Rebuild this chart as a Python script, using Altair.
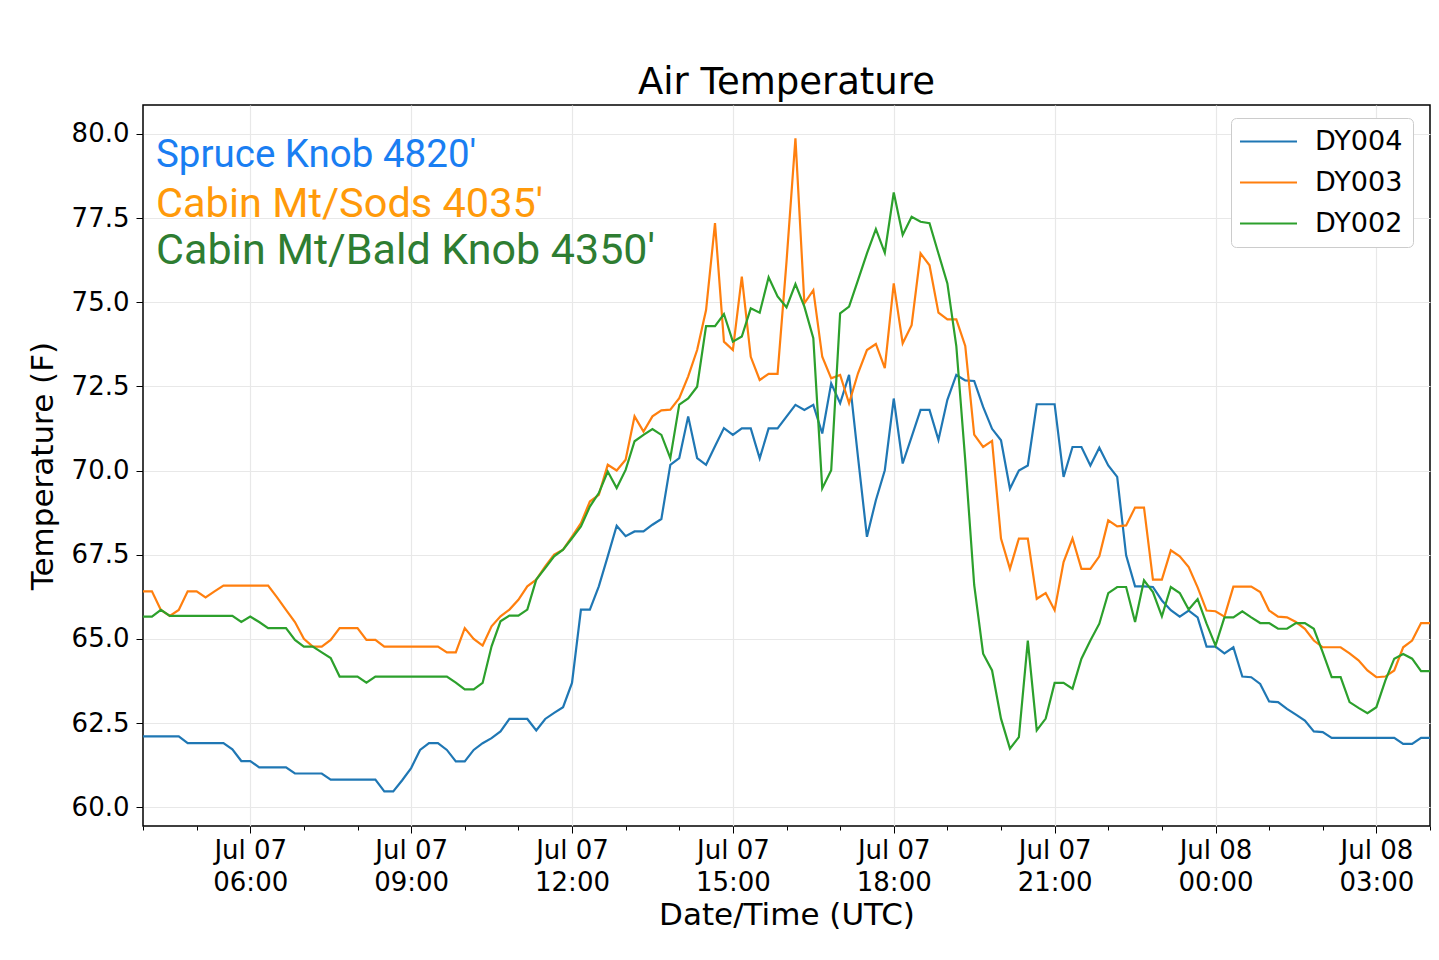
import altair as alt
import pandas as pd

# 10-minute readings, Jul 07 04:00 UTC to Jul 08 04:00 UTC
start_time = "2019-07-07 04:00"

dy004 = [62.1, 62.1, 62.1, 62.1, 62.1, 61.9, 61.9, 61.9, 61.9, 61.9,
         61.72, 61.37, 61.37, 61.18, 61.18, 61.18, 61.18, 61.0, 61.0, 61.0,
         61.0, 60.82, 60.82, 60.82, 60.82, 60.82, 60.82, 60.47, 60.47, 60.8,
         61.16, 61.7, 61.9, 61.9, 61.7, 61.36, 61.36, 61.7, 61.9, 62.05,
         62.25, 62.62, 62.62, 62.62, 62.28, 62.62, 62.8, 62.97, 63.69, 65.87,
         65.87, 66.56, 67.45, 68.36, 68.05, 68.19, 68.19, 68.39, 68.56, 70.17,
         70.37, 71.61, 70.37, 70.17, 70.72, 71.26, 71.06, 71.25, 71.25, 70.36,
         71.25, 71.25, 71.6, 71.95, 71.8, 71.95, 71.1, 72.59, 72.0, 72.84,
         70.4, 68.03, 69.12, 70.01, 72.14, 70.21, 71.0, 71.8, 71.8, 70.91,
         72.1, 72.84, 72.68, 72.66, 71.89, 71.24, 70.9, 69.46, 70.0, 70.15,
         71.97, 71.97, 71.97, 69.81, 70.7, 70.7, 70.15, 70.68, 70.15, 69.81,
         67.48, 66.56, 66.56, 66.54, 66.14, 65.85, 65.66, 65.84, 65.64, 64.77,
         64.77, 64.57, 64.75, 63.88, 63.86, 63.66, 63.14, 63.12, 62.92, 62.75,
         62.57, 62.25, 62.23, 62.06, 62.06, 62.06, 62.06, 62.06, 62.06, 62.06,
         62.06, 61.88, 61.88, 62.06, 62.06]

dy003 = [66.41, 66.41, 65.86, 65.68, 65.86, 66.41, 66.41, 66.23, 66.41, 66.58,
         66.58, 66.58, 66.58, 66.58, 66.58, 66.23, 65.86, 65.5, 65.0, 64.77,
         64.77, 64.97, 65.32, 65.32, 65.32, 64.97, 64.97, 64.77, 64.77, 64.77,
         64.77, 64.77, 64.77, 64.77, 64.6, 64.6, 65.32, 65.0, 64.8, 65.37,
         65.67, 65.87, 66.16, 66.56, 66.76, 67.15, 67.5, 67.65, 68.04, 68.44,
         69.08, 69.28, 70.17, 70.0, 70.32, 71.61, 71.16, 71.61, 71.79, 71.81,
         72.15, 72.8, 73.58, 74.77, 77.35, 73.83, 73.58, 75.76, 73.38, 72.69,
         72.87, 72.87, 76.2, 79.87, 74.97, 75.36, 73.38, 72.74, 72.84, 72.0,
         72.89, 73.58, 73.76, 73.04, 75.56, 73.78, 74.32, 76.45, 76.1, 74.69,
         74.49, 74.49, 73.7, 71.07, 70.7, 70.88, 67.98, 67.08, 67.98, 67.98,
         66.19, 66.36, 65.85, 67.28, 67.98, 67.08, 67.08, 67.45, 68.52, 68.34,
         68.37, 68.9, 68.9, 66.76, 66.76, 67.63, 67.45, 67.13, 66.53, 65.84,
         65.82, 65.66, 66.55, 66.55, 66.55, 66.39, 65.84, 65.66, 65.64, 65.5,
         65.3, 64.95, 64.75, 64.75, 64.75, 64.57, 64.36, 64.06, 63.86, 63.88,
         64.06, 64.75, 64.95, 65.47, 65.47]

dy002 = [65.66, 65.66, 65.86, 65.68, 65.68, 65.68, 65.68, 65.68, 65.68, 65.68,
         65.68, 65.5, 65.66, 65.5, 65.32, 65.32, 65.32, 64.97, 64.77, 64.77,
         64.6, 64.43, 63.88, 63.88, 63.88, 63.7, 63.88, 63.88, 63.88, 63.88,
         63.88, 63.88, 63.88, 63.88, 63.88, 63.7, 63.5, 63.5, 63.69, 64.78,
         65.52, 65.69, 65.69, 65.87, 66.76, 67.1, 67.45, 67.65, 67.99, 68.34,
         68.93, 69.33, 69.97, 69.48, 70.02, 70.87, 71.06, 71.23, 71.06, 70.37,
         71.96, 72.14, 72.49, 74.29, 74.29, 74.65, 73.83, 73.98, 74.82, 74.69,
         75.74, 75.17, 74.85, 75.54, 74.87, 73.93, 69.47, 70.01, 74.67, 74.87,
         75.66, 76.45, 77.17, 76.47, 78.26, 77.0, 77.54, 77.39, 77.35, 76.45,
         75.56, 73.7, 70.3, 66.6, 64.56, 64.06, 62.63, 61.74, 62.08, 64.95,
         62.28, 62.63, 63.69, 63.69, 63.52, 64.41, 64.95, 65.45, 66.36, 66.54,
         66.54, 65.5, 66.74, 66.39, 65.67, 66.54, 66.36, 65.87, 66.18, 65.45,
         64.8, 65.64, 65.64, 65.82, 65.64, 65.47, 65.47, 65.3, 65.3, 65.47,
         65.47, 65.3, 64.6, 63.86, 63.86, 63.12, 62.95, 62.79, 62.97, 63.76,
         64.41, 64.55, 64.41, 64.04, 64.04]

stations = ["DY004", "DY003", "DY002"]
line_colors = ["#1f77b4", "#ff7f0e", "#2ca02c"]

ann_labels = ["Spruce Knob 4820'", "Cabin Mt/Sods 4035'", "Cabin Mt/Bald Knob 4350'"]
ann_colors = ["#1a7ef2", "#ff9a0a", "#2e7d32"]
ann_sizes = [38.5, 41.5, 43]
ann_y = [62, 112, 159]

y_ticks = [60.0, 62.5, 65.0, 67.5, 70.0, 72.5, 75.0, 77.5, 80.0]

times = pd.date_range(start_time, periods=len(dy004), freq="10min")
frames = []
for name, vals in zip(stations, [dy004, dy003, dy002]):
    frames.append(pd.DataFrame({
        "time": times.strftime("%Y-%m-%dT%H:%M:00Z"),
        "temp": vals,
        "station": name,
    }))
df = pd.concat(frames, ignore_index=True)

hour_ticks = [alt.DateTime(year=2019, month=7, date=7 + (4 + h) // 24,
                           hours=(4 + h) % 24, utc=True) for h in range(25)]

x_enc = alt.X(
    "time:T",
    title="Date/Time (UTC)",
    scale=alt.Scale(type="utc", domain=[hour_ticks[0], hour_ticks[-1]], nice=False),
    axis=alt.Axis(
        values=hour_ticks,
        labelExpr="utchours(datum.value) % 3 == 0 ? [utcFormat(datum.value, '%b %d'), utcFormat(datum.value, '%H:%M')] : ''",
        tickSize={"condition": {"test": "utchours(datum.value) % 3 == 0", "value": 7}, "value": 4},
        gridOpacity={"condition": {"test": "utchours(datum.value) % 3 == 0", "value": 1}, "value": 0},
        labelLineHeight=32,
        labelPadding=4,
        titlePadding=5,
        labelFlush=False,
        labelOverlap=False,
    ),
)
y_enc = alt.Y(
    "temp:Q",
    title="Temperature (F)",
    scale=alt.Scale(domain=[59.44, 80.86], nice=False, zero=False),
    axis=alt.Axis(values=y_ticks, format=".1f", tickSize=7, labelPadding=7, titlePadding=12),
)
color_enc = alt.Color(
    "station:N",
    scale=alt.Scale(domain=stations, range=line_colors),
    legend=alt.Legend(
        title=None, orient="none", legendX=1088, legendY=13,
        symbolType="M-3,0H3", symbolSize=361, symbolStrokeWidth=2.2,
        symbolOffset=14, labelOffset=33,
        labelFontSize=27, labelFont="DejaVu Sans",
        rowPadding=13, padding=10, fillColor="white", strokeColor="#cccccc",
        cornerRadius=5,
    ),
)

lines = []
for name in stations:
    lines.append(
        alt.Chart(df).transform_filter(alt.datum.station == name)
        .mark_line(strokeWidth=2.2)
        .encode(x=x_enc, y=y_enc, color=color_enc)
    )

texts = []
for lab, col, fs, yy in zip(ann_labels, ann_colors, ann_sizes, ann_y):
    texts.append(
        alt.Chart(pd.DataFrame({"label": [lab]}))
        .mark_text(align="left", baseline="alphabetic", font="Roboto", fontSize=fs, color=col)
        .encode(x=alt.value(13), y=alt.value(yy), text="label:N")
    )

chart = alt.layer(*lines, *texts).properties(
    width=1287,
    height=721,
    title=alt.TitleParams("Air Temperature", fontSize=37, font="DejaVu Sans",
                          fontWeight="normal", anchor="middle", offset=3, color="black"),
    autosize=alt.AutoSizeParams(type="none"),
    padding={"left": 135, "top": 97, "right": 1, "bottom": 126},
).configure_view(
    stroke="black", strokeWidth=1.5,
).configure_axis(
    labelFont="DejaVu Sans", titleFont="DejaVu Sans",
    labelFontSize=26, titleFontSize=31, titleFontWeight="normal",
    labelColor="black", titleColor="black", tickColor="black",
    domain=False, gridColor="#e8e8e8", gridWidth=1.2,
)

chart.save("out.html", embed_options={"renderer": "svg", "actions": False})
